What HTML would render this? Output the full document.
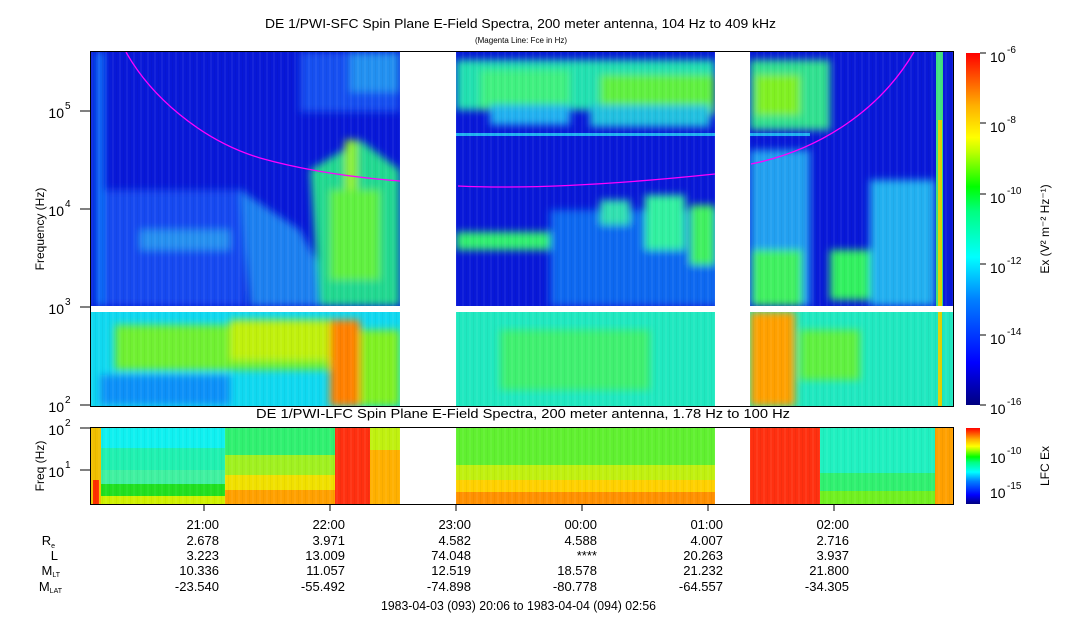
<!DOCTYPE html>
<html><head><meta charset="utf-8"><style>
html,body{margin:0;padding:0;background:#fff}
svg{display:block;font-family:"Liberation Sans",sans-serif}
</style></head><body>
<svg width="1083" height="620" viewBox="0 0 1083 620" xmlns="http://www.w3.org/2000/svg">
<defs>
<linearGradient id="jet" x1="0" y1="1" x2="0" y2="0">
<stop offset="0" stop-color="#00007f"/><stop offset="0.12" stop-color="#0000ff"/>
<stop offset="0.3" stop-color="#0080ff"/><stop offset="0.42" stop-color="#00ffff"/>
<stop offset="0.55" stop-color="#00ff80"/><stop offset="0.62" stop-color="#00ff00"/>
<stop offset="0.72" stop-color="#c0ff00"/><stop offset="0.76" stop-color="#ffff00"/>
<stop offset="0.85" stop-color="#ffb000"/><stop offset="1" stop-color="#ff0000"/>
</linearGradient>
<pattern id="streak" width="7" height="6" patternUnits="userSpaceOnUse">
<rect x="0" y="0" width="2" height="6" fill="#fff" opacity="0.05"/>
<rect x="4" y="0" width="1" height="6" fill="#000" opacity="0.04"/>
</pattern>
<filter id="bl" x="-10%" y="-10%" width="120%" height="120%"><feGaussianBlur stdDeviation="4"/></filter>
<clipPath id="cA"><rect x="91" y="52" width="309" height="254"/></clipPath>
<clipPath id="cB"><rect x="456" y="52" width="259" height="254"/></clipPath>
<clipPath id="cC"><rect x="750" y="52" width="203" height="254"/></clipPath>
<clipPath id="lA"><rect x="91" y="312" width="309" height="94"/></clipPath>
<clipPath id="lB"><rect x="456" y="312" width="259" height="94"/></clipPath>
<clipPath id="lC"><rect x="750" y="312" width="203" height="94"/></clipPath>
</defs>

<text x="265" y="28" font-size="13" textLength="511" lengthAdjust="spacingAndGlyphs">DE 1/PWI-SFC  Spin Plane E-Field Spectra, 200 meter antenna, 104 Hz to 409 kHz</text>
<text x="521" y="43" font-size="8" text-anchor="middle">(Magenta Line: Fce in Hz)</text>

<!-- upper SFC -->
<g clip-path="url(#cA)">
<rect x="91" y="52" width="309" height="254" fill="#0818d8"/>
<g filter="url(#bl)">
<rect x="96" y="52" width="8" height="254" fill="#1080ff"/>
<rect x="300" y="52" width="100" height="60" fill="#1850f0"/>
<rect x="350" y="52" width="50" height="40" fill="#2090f0"/>
<rect x="105" y="190" width="140" height="116" fill="#1248f0"/>
<rect x="140" y="230" width="90" height="20" fill="#2890f0"/>
<polygon points="240,190 300,230 340,306 250,306" fill="#1c80f0"/>
<polygon points="310,170 360,140 400,170 400,306 320,306" fill="#20d890"/>
<rect x="330" y="190" width="50" height="90" fill="#60f040"/>
<rect x="345" y="140" width="12" height="50" fill="#90f020"/>
</g>
<rect x="91" y="52" width="309" height="254" fill="url(#streak)"/>
</g>
<g clip-path="url(#cB)">
<rect x="456" y="52" width="259" height="254" fill="#0818d8"/>
<g filter="url(#bl)">
<rect x="456" y="60" width="259" height="50" fill="#20e0b0"/>
<rect x="480" y="70" width="90" height="40" fill="#40f080"/>
<rect x="600" y="75" width="115" height="40" fill="#60f040"/>
<rect x="490" y="105" width="80" height="20" fill="#20b0f0"/>
<rect x="590" y="105" width="120" height="22" fill="#20c0e0"/>
<rect x="456" y="232" width="100" height="18" fill="#30f070"/>
<rect x="550" y="210" width="170" height="96" fill="#1068f0"/>
<rect x="600" y="200" width="30" height="25" fill="#30e0b0"/>
<rect x="645" y="195" width="40" height="55" fill="#30f0a0"/>
<rect x="690" y="205" width="25" height="60" fill="#40f060"/>
</g>
<rect x="456" y="133" width="259" height="3" fill="#20b0f0"/>
<rect x="456" y="52" width="259" height="254" fill="url(#streak)"/>
</g>
<g clip-path="url(#cC)">
<rect x="750" y="52" width="203" height="254" fill="#0818d8"/>
<g filter="url(#bl)">
<rect x="750" y="60" width="80" height="70" fill="#30e090"/>
<rect x="755" y="75" width="45" height="40" fill="#80f020"/>
<rect x="750" y="150" width="60" height="156" fill="#20a0f0"/>
<rect x="752" y="250" width="50" height="56" fill="#40f060"/>
<rect x="830" y="250" width="50" height="50" fill="#30f060"/>
<rect x="870" y="180" width="65" height="126" fill="#20b0f0"/>
</g>
<rect x="750" y="133" width="60" height="3" fill="#20b0f0"/>
<rect x="936" y="52" width="7" height="254" fill="#40e080"/>
<rect x="938" y="120" width="4" height="186" fill="#e0d000"/>
<rect x="750" y="52" width="203" height="254" fill="url(#streak)"/>
</g>

<!-- lower SFC -->
<g clip-path="url(#lA)">
<rect x="91" y="312" width="309" height="94" fill="#10d8f0"/>
<g filter="url(#bl)">
<rect x="100" y="375" width="130" height="30" fill="#1090f8"/>
<rect x="115" y="325" width="215" height="45" fill="#70f030"/>
<rect x="230" y="320" width="110" height="40" fill="#c0f010"/>
<rect x="330" y="320" width="30" height="86" fill="#ff8000"/>
<rect x="360" y="330" width="40" height="76" fill="#80f020"/>
</g>
<rect x="91" y="312" width="309" height="94" fill="url(#streak)"/>
</g>
<g clip-path="url(#lB)">
<rect x="456" y="312" width="259" height="94" fill="#20e8c0"/>
<g filter="url(#bl)"><rect x="500" y="330" width="150" height="60" fill="#40f070"/></g>
<rect x="456" y="312" width="259" height="94" fill="url(#streak)"/>
</g>
<g clip-path="url(#lC)">
<rect x="750" y="312" width="203" height="94" fill="#20e8c0"/>
<g filter="url(#bl)">
<rect x="750" y="312" width="45" height="94" fill="#ffa000"/>
<rect x="800" y="330" width="60" height="50" fill="#60f040"/>
</g>
<rect x="938" y="312" width="4" height="94" fill="#e0d000"/>
<rect x="750" y="312" width="203" height="94" fill="url(#streak)"/>
</g>

<!-- magenta -->
<path d="M126,52 C150,95 200,140 260,158 C310,172 360,178 400,181" fill="none" stroke="#ff00ff" stroke-width="1.3"/>
<path d="M458,186 C520,189 600,186 715,174" fill="none" stroke="#ff00ff" stroke-width="1.3"/>
<path d="M751,164 C820,150 880,110 914,52" fill="none" stroke="#ff00ff" stroke-width="1.3"/>

<rect x="90.5" y="51.5" width="863" height="355" fill="none" stroke="#000"/>
<g font-size="14">
<text x="64" y="118" text-anchor="end">10</text><text x="65" y="109" font-size="10">5</text>
<text x="64" y="216" text-anchor="end">10</text><text x="65" y="207" font-size="10">4</text>
<text x="64" y="314" text-anchor="end">10</text><text x="65" y="305" font-size="10">3</text>
<text x="64" y="412" text-anchor="end">10</text><text x="65" y="403" font-size="10">2</text>
<text transform="translate(44,229) rotate(-90)" text-anchor="middle" font-size="12">Frequency (Hz)</text>
</g>
<g stroke="#000">
<line x1="80" y1="111" x2="90" y2="111"/><line x1="80" y1="209" x2="90" y2="209"/>
<line x1="80" y1="307" x2="90" y2="307"/><line x1="80" y1="405" x2="90" y2="405"/>
</g>

<!-- colorbar -->
<rect x="966" y="53" width="14" height="352" fill="url(#jet)"/>
<g stroke="#000"><line x1="980" y1="53" x2="986" y2="53"/><line x1="980" y1="123" x2="986" y2="123"/><line x1="980" y1="194" x2="986" y2="194"/><line x1="980" y1="264" x2="986" y2="264"/><line x1="980" y1="335" x2="986" y2="335"/><line x1="980" y1="405" x2="986" y2="405"/></g>
<g font-size="14">
<text x="990" y="62">10</text><text x="1007" y="53" font-size="10">-6</text>
<text x="990" y="132">10</text><text x="1007" y="123" font-size="10">-8</text>
<text x="990" y="203">10</text><text x="1007" y="194" font-size="10">-10</text>
<text x="990" y="273">10</text><text x="1007" y="264" font-size="10">-12</text>
<text x="990" y="344">10</text><text x="1007" y="335" font-size="10">-14</text>
<text x="990" y="414">10</text><text x="1007" y="405" font-size="10">-16</text>
<text transform="translate(1049,229) rotate(-90)" text-anchor="middle" font-size="12">Ex (V² m⁻² Hz⁻¹)</text>
</g>

<text x="256" y="418" font-size="13" textLength="534" lengthAdjust="spacingAndGlyphs">DE 1/PWI-LFC  Spin Plane E-Field Spectra, 200 meter antenna, 1.78 Hz to 100 Hz</text>

<!-- LFC -->
<rect x="91" y="428" width="309" height="76" fill="#30f070"/>
<rect x="456" y="428" width="259" height="76" fill="#60f030"/>
<rect x="750" y="428" width="203" height="76" fill="#30f080"/>
<rect x="100" y="428" width="125" height="20" fill="#10f0f0"/>
<rect x="100" y="448" width="125" height="22" fill="#20f0b0"/>
<rect x="100" y="470" width="125" height="14" fill="#40f0a0"/>
<rect x="100" y="484" width="125" height="12" fill="#20e020"/>
<rect x="91" y="496" width="134" height="8" fill="#d0f000"/>
<rect x="91" y="428" width="10" height="76" fill="#f0c000"/>
<rect x="93" y="480" width="6" height="24" fill="#ff3000"/>
<rect x="225" y="455" width="110" height="20" fill="#a0f020"/>
<rect x="225" y="475" width="110" height="15" fill="#f0e000"/>
<rect x="225" y="490" width="110" height="14" fill="#ffa000"/>
<rect x="335" y="428" width="35" height="76" fill="#ff3010"/>
<rect x="370" y="428" width="30" height="76" fill="#ffb000"/>
<rect x="370" y="428" width="30" height="22" fill="#c0f010"/>
<rect x="456" y="465" width="259" height="15" fill="#c0f010"/>
<rect x="456" y="480" width="259" height="12" fill="#ffd000"/>
<rect x="456" y="492" width="259" height="12" fill="#ff9000"/>
<rect x="750" y="428" width="70" height="76" fill="#ff3010"/>
<rect x="820" y="428" width="115" height="45" fill="#20f0c0"/>
<rect x="820" y="473" width="115" height="18" fill="#30f070"/>
<rect x="820" y="491" width="115" height="13" fill="#70f020"/>
<rect x="935" y="428" width="18" height="76" fill="#ffa000"/>
<rect x="91" y="428" width="309" height="76" fill="url(#streak)"/>
<rect x="456" y="428" width="259" height="76" fill="url(#streak)"/>
<rect x="750" y="428" width="203" height="76" fill="url(#streak)"/>
<rect x="90.5" y="427.5" width="863" height="77" fill="none" stroke="#000"/>
<g stroke="#000"><line x1="80" y1="428" x2="90" y2="428"/><line x1="80" y1="470" x2="90" y2="470"/></g>
<g font-size="14">
<text x="64" y="435" text-anchor="end">10</text><text x="65" y="426" font-size="10">2</text>
<text x="64" y="477" text-anchor="end">10</text><text x="65" y="468" font-size="10">1</text>
<text transform="translate(44,466) rotate(-90)" text-anchor="middle" font-size="12">Freq (Hz)</text>
</g>
<rect x="966" y="428" width="14" height="76" fill="url(#jet)"/>
<g font-size="14">
<text x="990" y="463">10</text><text x="1007" y="454" font-size="10">-10</text>
<text x="990" y="498">10</text><text x="1007" y="489" font-size="10">-15</text>
<text transform="translate(1049,466) rotate(-90)" text-anchor="middle" font-size="12">LFC Ex</text>
</g>

<!-- time ticks -->
<g stroke="#000">
<line x1="204" y1="504" x2="204" y2="511"/><line x1="330" y1="504" x2="330" y2="511"/><line x1="456" y1="504" x2="456" y2="511"/><line x1="582" y1="504" x2="582" y2="511"/><line x1="708" y1="504" x2="708" y2="511"/><line x1="834" y1="504" x2="834" y2="511"/>
</g>
<g font-size="13" text-anchor="end">
<text x="219" y="529">21:00</text><text x="345" y="529">22:00</text><text x="471" y="529">23:00</text><text x="597" y="529">00:00</text><text x="723" y="529">01:00</text><text x="849" y="529">02:00</text>
<text x="219" y="545">2.678</text><text x="345" y="545">3.971</text><text x="471" y="545">4.582</text><text x="597" y="545">4.588</text><text x="723" y="545">4.007</text><text x="849" y="545">2.716</text>
<text x="219" y="560">3.223</text><text x="345" y="560">13.009</text><text x="471" y="560">74.048</text><text x="597" y="560">****</text><text x="723" y="560">20.263</text><text x="849" y="560">3.937</text>
<text x="219" y="575">10.336</text><text x="345" y="575">11.057</text><text x="471" y="575">12.519</text><text x="597" y="575">18.578</text><text x="723" y="575">21.232</text><text x="849" y="575">21.800</text>
<text x="219" y="591">-23.540</text><text x="345" y="591">-55.492</text><text x="471" y="591">-74.898</text><text x="597" y="591">-80.778</text><text x="723" y="591">-64.557</text><text x="849" y="591">-34.305</text>
<text x="55" y="545">R<tspan font-size="7" dy="3">e</tspan></text>
<text x="58" y="560">L</text>
<text x="60" y="575">M<tspan font-size="7" dy="2">LT</tspan></text>
<text x="62" y="591">M<tspan font-size="7" dy="2">LAT</tspan></text>
</g>
<text x="381" y="610" font-size="13" textLength="275" lengthAdjust="spacingAndGlyphs">1983-04-03 (093) 20:06 to 1983-04-04 (094) 02:56</text>
</svg>
</body></html>
